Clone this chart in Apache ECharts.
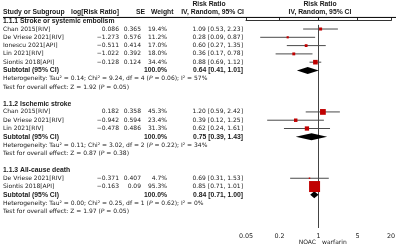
<!DOCTYPE html>
<html>
<head>
<meta charset="utf-8">
<script src="https://cdn.jsdelivr.net/npm/echarts@6/dist/echarts.min.js"></script>
<style>
html,body{margin:0;padding:0;background:#fff}
#main{width:400px;height:245px}
</style>
</head>
<body>
<div id="main"></div>
<script>
// subgroups
var groupNames = ["1.1.1 Stroke or systemic embolism", "1.1.2 Ischemic stroke", "1.1.3 All-cause death"];
var subRR = [0.64, 0.75, 0.84];
var subLo = [0.41, 0.39, 0.71];
var subHi = [1.01, 1.43, 1.00];
var tau2 = ["0.14", "0.11", "0.00"];
var chi2 = ["9.24", "3.02", "0.25"];
var hetDf = [4, 2, 1];
var hetP = ["0.06", "0.22", "0.62"];
var i2 = [57, 34, 0];
var zVal = ["1.92", "0.87", "1.97"];
var zP = ["0.05", "0.38", "0.05"];

// studies
var studyNames = ["Chan 2015[RIV]", "De Vriese 2021[RIV]", "Ionescu 2021[API]", "Lin 2021[RIV]", "Siontis 2018[API]",
                  "Chan 2015[RIV]", "De Vriese 2021[RIV]", "Lin 2021[RIV]",
                  "De Vriese 2021[RIV]", "Siontis 2018[API]"];
var studyGroup = [0, 0, 0, 0, 0, 1, 1, 1, 2, 2];
var logRR = ["0.086", "-1.273", "-0.511", "-1.022", "-0.128", "0.182", "-0.942", "-0.478", "-0.371", "-0.163"];
var se = ["0.365", "0.576", "0.414", "0.392", "0.124", "0.358", "0.594", "0.486", "0.407", "0.09"];
var weight = [19.4, 11.2, 17.0, 18.0, 34.4, 45.3, 23.4, 31.3, 4.7, 95.3];
var rr = [1.09, 0.28, 0.60, 0.36, 0.88, 1.20, 0.39, 0.62, 0.69, 0.85];
var lo = [0.53, 0.09, 0.27, 0.17, 0.69, 0.59, 0.12, 0.24, 0.31, 0.71];
var hi = [2.23, 0.87, 1.35, 0.78, 1.12, 2.42, 1.25, 1.61, 1.53, 1.01];

// axis
var tickValues = [0.05, 0.2, 1, 5, 20];
var axisLeftLabel = "NOAC";
var axisRightLabel = "warfarin";

var FONT = '"DejaVu Sans", Verdana, sans-serif';
var BFONT = '"Liberation Sans", Arial, sans-serif';
var FS = 6;
var BFS = 6.8;
var INK = '#1a1a1a';

function minus(s) { return String(s).replace('-', '\u2212'); }
function ci(a, b, c) { return a.toFixed(2) + ' [' + b.toFixed(2) + ', ' + c.toFixed(2) + ']'; }
function lg(v) { return Math.log10(v); }

// build row layout
var rows = [];
rows.push({kind: 'head1', row: -2});
rows.push({kind: 'head2', row: -1});
var r = 0;
var squares = [], lines = [], diamonds = [];
for (var g = 0; g < groupNames.length; g++) {
  rows.push({kind: 'group', row: r, g: g}); r++;
  for (var i = 0; i < studyNames.length; i++) {
    if (studyGroup[i] != g) continue;
    rows.push({kind: 'study', row: r, i: i});
    squares.push({value: [lg(rr[i]), r], symbolSize: 1 + 0.105 * weight[i]});
    lines.push([lg(lo[i]), lg(hi[i]), r]);
    r++;
  }
  rows.push({kind: 'sub', row: r, g: g});
  diamonds.push([lg(subLo[g]), lg(subRR[g]), lg(subHi[g]), r]);
  r++;
  rows.push({kind: 'het', row: r, g: g}); r++;
  rows.push({kind: 'test', row: r, g: g}); r++;
  r++;
}

function txt(x, y, s, align, bold, rich) {
  var st = {text: s, fill: INK, fontSize: bold ? BFS : FS, fontFamily: bold ? BFONT : FONT,
            fontWeight: bold ? 'bold' : 'normal', align: align || 'left', verticalAlign: 'middle'};
  if (rich) st.rich = {i: {fontStyle: 'italic', fontSize: FS, fontFamily: FONT, fill: INK}};
  return {type: 'text', x: x, y: y, style: st};
}

var myChart = echarts.init(document.getElementById('main'));
myChart.setOption({
  animation: false,
  grid: {left: 246, right: 9, top: 0, bottom: 17},
  xAxis: {
    type: 'value',
    min: lg(0.05), max: lg(20),
    splitLine: {show: false},
    axisLine: {lineStyle: {color: '#333', width: 1}},
    axisTick: {customValues: tickValues.map(lg), length: 3, inside: true, lineStyle: {color: '#333'}},
    axisLabel: {customValues: tickValues.map(lg), fontSize: 6.4, fontFamily: FONT, color: INK, margin: 5,
      formatter: function (v) { return String(parseFloat(Math.pow(10, v).toPrecision(2))); }}
  },
  yAxis: {type: 'value', show: false, inverse: true, min: -2.5, max: 25},
  graphic: [
    txt(316, 242, axisLeftLabel, 'right'),
    txt(322, 242, axisRightLabel, 'left')
  ],
  series: [
    {
      type: 'line', data: [[0, 0.5], [0, 25]], symbol: 'none',
      lineStyle: {color: '#444', width: 1}, z: 1
    },
    {
      type: 'custom',
      data: lines,
      encode: {x: [0, 1], y: 2},
      renderItem: function (params, api) {
        var a = api.coord([api.value(0), api.value(2)]);
        var b = api.coord([api.value(1), api.value(2)]);
        return {type: 'line', shape: {x1: a[0], y1: a[1], x2: b[0], y2: b[1]},
                style: {stroke: '#4a4a4a', lineWidth: 1}};
      },
      z: 2
    },
    {
      type: 'scatter', data: squares, symbol: 'rect',
      itemStyle: {color: '#c00000', opacity: 1}, z: 3
    },
    {
      type: 'custom',
      data: diamonds,
      encode: {x: [0, 1, 2], y: 3},
      renderItem: function (params, api) {
        var y = api.value(3);
        var p0 = api.coord([api.value(0), y]);
        var p1 = api.coord([api.value(1), y]);
        var p2 = api.coord([api.value(2), y]);
        var h = 3.5;
        return {type: 'polygon',
                shape: {points: [[p0[0], p0[1]], [p1[0], p1[1] - h], [p2[0], p2[1]], [p1[0], p1[1] + h]]},
                style: {fill: '#000'}};
      },
      z: 3
    },
    {
      type: 'custom',
      data: rows.map(function (o, k) { return [0, o.row, k]; }),
      encode: {x: 0, y: 1},
      clip: false,
      renderItem: function (params, api) {
        var o = rows[api.value(2)];
        var y = api.coord([0, o.row])[1];
        var c = [];
        if (o.kind == 'head1') {
          c.push(txt(209, y, 'Risk Ratio', 'center', true));
          c.push(txt(320, y, 'Risk Ratio', 'center', true));
        } else if (o.kind == 'head2') {
          c.push(txt(3, y, 'Study or Subgroup', 'left', true));
          c.push(txt(119, y, 'log[Risk Ratio]', 'right', true));
          c.push(txt(145, y, 'SE', 'right', true));
          c.push(txt(151, y, 'Weight', 'left', true));
          c.push(txt(244, y, 'IV, Random, 95% CI', 'right', true));
          c.push(txt(320, y, 'IV, Random, 95% CI', 'center', true));
          c.push({type: 'line', shape: {x1: 3, y1: y + 5, x2: 396, y2: y + 5}, style: {stroke: '#000', lineWidth: 1}});
        } else if (o.kind == 'group') {
          c.push(txt(3, y, groupNames[o.g], 'left', true));
        } else if (o.kind == 'study') {
          var i = o.i;
          c.push(txt(3, y, studyNames[i]));
          c.push(txt(119, y, minus(logRR[i]), 'right'));
          c.push(txt(141, y, se[i], 'right'));
          c.push(txt(167, y, weight[i].toFixed(1) + '%', 'right'));
          c.push(txt(243, y, ci(rr[i], lo[i], hi[i]), 'right'));
        } else if (o.kind == 'sub') {
          c.push(txt(3, y, 'Subtotal (95% CI)', 'left', true));
          c.push(txt(167, y, '100.0%', 'right', true));
          c.push(txt(243, y, ci(subRR[o.g], subLo[o.g], subHi[o.g]), 'right', true));
        } else if (o.kind == 'het') {
          var g = o.g;
          c.push(txt(3, y, 'Heterogeneity: Tau\u00b2 = ' + tau2[g] + '; Chi\u00b2 = ' + chi2[g] + ', df = ' + hetDf[g] +
            ' ({i|P} = ' + hetP[g] + '); I\u00b2 = ' + i2[g] + '%', 'left', false, true));
        } else if (o.kind == 'test') {
          c.push(txt(3, y, 'Test for overall effect: Z = ' + zVal[o.g] + ' ({i|P} = ' + zP[o.g] + ')', 'left', false, true));
        }
        return {type: 'group', children: c};
      },
      z: 5
    }
  ]
});
</script>
</body>
</html>
